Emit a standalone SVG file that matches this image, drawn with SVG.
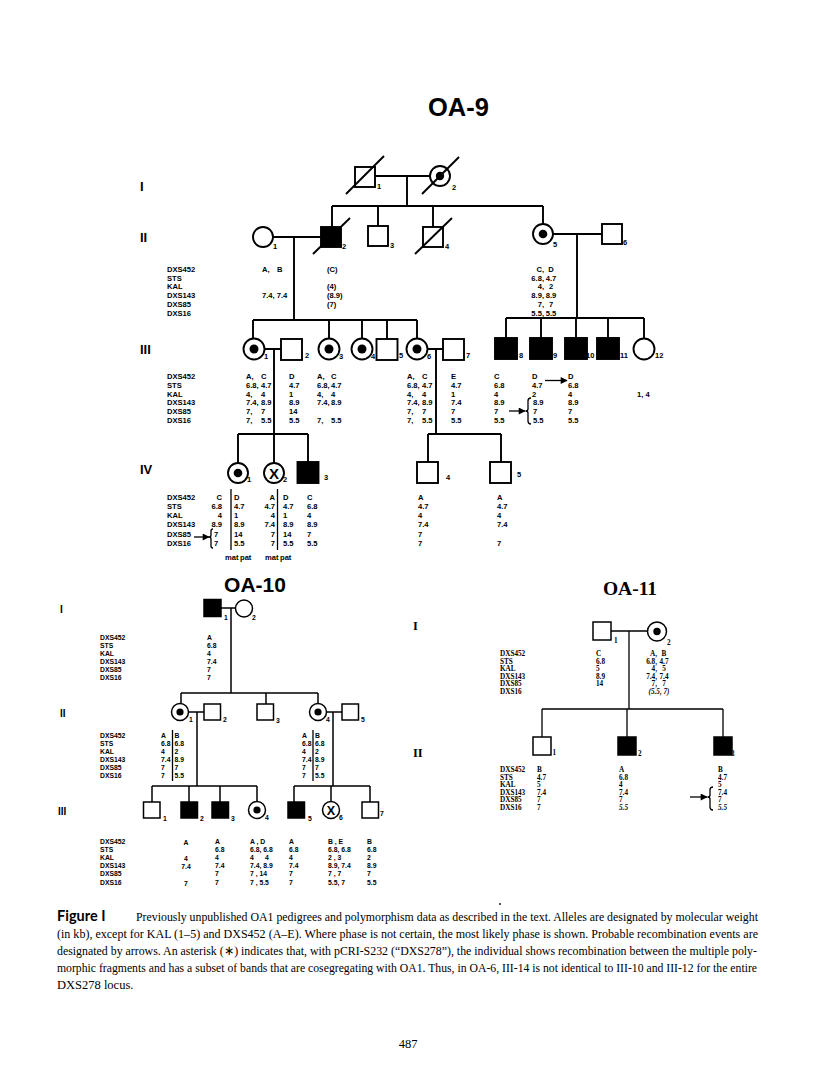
<svg xmlns="http://www.w3.org/2000/svg" width="816" height="1081" viewBox="0 0 816 1081">
<defs>
<marker id="ah" viewBox="0 0 10 10" refX="9" refY="5" markerWidth="9" markerHeight="7" markerUnits="userSpaceOnUse" orient="auto"><path d="M0,0 L10,5 L0,10 z" fill="#000"/></marker>
</defs>
<style>
.l{stroke:#000;stroke-width:1.9;fill:none}
.o{stroke:#000;stroke-width:1.9;fill:#fff}
.k{stroke:#000;stroke-width:1.9;fill:#000}
.t{stroke:#000;stroke-width:1.5;fill:none}
.to{stroke:#000;stroke-width:1.5;fill:#fff}
.tk{stroke:#000;stroke-width:1.5;fill:#000}
.a{stroke:#000;stroke-width:1.3;fill:none}
.dot{fill:#000}
text{fill:#000}
.sb{font-family:"Liberation Sans",Arial,Helvetica,sans-serif;font-weight:bold}
.d9{font-size:7.6px}
.d10{font-size:6.8px}
.n9{font-size:7.5px}
.n10{font-size:6.8px}
.g9{font-size:13px}
.g10{font-size:10px}
.sf{font-family:"Liberation Serif","Times New Roman",serif;font-weight:bold}
.d11{font-size:7.2px}
.g11{font-size:12.5px}
.it{font-style:italic}
.cap{font-family:"Liberation Serif","Times New Roman",serif;font-size:12.5px}
</style>

<!-- ================= OA-9 ================= -->
<g id="oa9-title"><text class="sb" x="458.5" y="116" font-size="25.5" text-anchor="middle">OA-9</text></g>
<g id="oa9-gen-labels" class="sb g9">
<text x="140" y="191">I</text><text x="140" y="242">II</text><text x="140" y="354">III</text><text x="140" y="474">IV</text>
</g>

<g id="oa9-connectors">
<path class="l" d="M375,176 H430 M407,176 V206 M332,206 H543 M332,206 V227 M378,206 V226 M433,206 V227 M543,206 V224"/>
<path class="l" d="M273,237 H321 M294,237 V320 M553,234 H602 M577,234 V318"/>
<path class="l" d="M253,320 H417 M253,320 V338.5 M329,320 V338.5 M362,320 V338.5 M387,320 V339 M417,320 V338.5"/>
<path class="l" d="M506,318 H644 M506,318 V338 M541,318 V338 M576,318 V338 M608,318 V338 M644,318 V338.5"/>
<path class="l" d="M264.5,349 H281 M274,349 V463 M238,434 H308 M238,434 V463 M308,434 V462"/>
<path class="l" d="M427.5,349 H443 M436,349 V434 M428,434 H501 M428,434 V462 M501,434 V462"/>
</g>

<g id="oa9-I-1"><rect class="o" x="355" y="167" width="20" height="20"/><line class="l" x1="346" y1="194" x2="384" y2="156"/><text class="sb n9" x="377" y="189">1</text></g>
<g id="oa9-I-2"><circle class="o" cx="440" cy="176" r="10"/><circle class="dot" cx="440" cy="176" r="4.2"/><line class="l" x1="422" y1="194" x2="459" y2="157"/><text class="sb n9" x="452" y="190">2</text></g>

<g id="oa9-II-1"><circle class="o" cx="263" cy="237" r="10"/><text class="sb n9" x="273" y="249">1</text></g>
<g id="oa9-II-2"><rect class="k" x="321" y="227" width="20" height="20"/><line class="l" x1="313" y1="254" x2="350" y2="218"/><text class="sb n9" x="342" y="249">2</text></g>
<g id="oa9-II-3"><rect class="o" x="368" y="226" width="20" height="20"/><text class="sb n9" x="390" y="248">3</text></g>
<g id="oa9-II-4"><rect class="o" x="423" y="227" width="20" height="20"/><line class="l" x1="415" y1="254" x2="452" y2="218"/><text class="sb n9" x="445" y="249">4</text></g>
<g id="oa9-II-5"><circle class="o" cx="543" cy="234" r="10"/><circle class="dot" cx="543" cy="234" r="4.3"/><text class="sb n9" x="553" y="247">5</text></g>
<g id="oa9-II-6"><rect class="o" x="602" y="224" width="20" height="20"/><text class="sb n9" x="623" y="245">6</text></g>

<g id="oa9-II-data" class="sb d9">
<text><tspan x="167" y="272">DXS452</tspan><tspan x="167" dy="8.7">STS</tspan><tspan x="167" dy="8.7">KAL</tspan><tspan x="167" dy="8.7">DXS143</tspan><tspan x="167" dy="8.7">DXS85</tspan><tspan x="167" dy="8.7">DXS16</tspan></text>
<text x="262" y="272">A,</text><text x="277" y="272">B</text><text x="262" y="298.1">7.4, 7.4</text>
<text><tspan x="327" y="272">(C)</tspan><tspan x="327" dy="17.4">(4)</tspan><tspan x="327" dy="8.7">(8.9)</tspan><tspan x="327" dy="8.7">(7)</tspan></text>
<text text-anchor="end"><tspan x="544" y="272">C,</tspan><tspan x="544" dy="8.7">6.8,</tspan><tspan x="544" dy="8.7">4,</tspan><tspan x="544" dy="8.7">8.9,</tspan><tspan x="544" dy="8.7">7,</tspan><tspan x="544" dy="8.7">5.5,</tspan></text>
<text text-anchor="middle"><tspan x="551" y="272">D</tspan><tspan x="551" dy="8.7">4.7</tspan><tspan x="551" dy="8.7">2</tspan><tspan x="551" dy="8.7">8.9</tspan><tspan x="551" dy="8.7">7</tspan><tspan x="551" dy="8.7">5.5</tspan></text>
</g>

<g id="oa9-III-1"><circle class="o" cx="254" cy="349" r="10.5"/><circle class="dot" cx="254" cy="349" r="4.5"/><text class="sb n9" x="264" y="359">1</text></g>
<g id="oa9-III-2"><rect class="o" x="281" y="339" width="21" height="21"/><text class="sb n9" x="305" y="358">2</text></g>
<g id="oa9-III-3"><circle class="o" cx="329" cy="349" r="10.5"/><circle class="dot" cx="329" cy="349" r="4.5"/><text class="sb n9" x="339" y="359">3</text></g>
<g id="oa9-III-4"><circle class="o" cx="362" cy="349" r="10.5"/><circle class="dot" cx="362" cy="349" r="4.5"/><text class="sb n9" x="371" y="359">4</text></g>
<g id="oa9-III-5"><rect class="o" x="376.5" y="339" width="21" height="21"/><text class="sb n9" x="399" y="358">5</text></g>
<g id="oa9-III-6"><circle class="o" cx="417" cy="349" r="10.5"/><circle class="dot" cx="417" cy="349" r="4.5"/><text class="sb n9" x="427" y="359">6</text></g>
<g id="oa9-III-7"><rect class="o" x="443" y="339" width="21" height="21"/><text class="sb n9" x="466" y="358">7</text></g>
<g id="oa9-III-8"><rect class="k" x="495" y="338" width="22" height="21"/><text class="sb n9" x="519" y="358">8</text></g>
<g id="oa9-III-9"><rect class="k" x="530" y="338" width="22" height="21"/><text class="sb n9" x="553" y="358">9</text></g>
<g id="oa9-III-10"><rect class="k" x="565" y="338" width="22" height="21"/><text class="sb n9" x="586" y="358">10</text></g>
<g id="oa9-III-11"><rect class="k" x="597" y="338" width="22" height="21"/><text class="sb n9" x="620" y="358">11</text></g>
<g id="oa9-III-12"><circle class="o" cx="644" cy="349" r="10.5"/><text class="sb n9" x="655" y="358">12</text></g>

<g id="oa9-III-data" class="sb d9">
<text><tspan x="167" y="378.6">DXS452</tspan><tspan x="167" dy="8.95">STS</tspan><tspan x="167" dy="8.95">KAL</tspan><tspan x="167" dy="8.95">DXS143</tspan><tspan x="167" dy="8.95">DXS85</tspan><tspan x="167" dy="8.95">DXS16</tspan></text>
<text><tspan x="246" y="378.6">A,</tspan><tspan x="246" dy="8.95">6.8,</tspan><tspan x="246" dy="8.95">4,</tspan><tspan x="246" dy="8.95">7.4,</tspan><tspan x="246" dy="8.95">7,</tspan><tspan x="246" dy="8.95">7,</tspan></text>
<text><tspan x="261" y="378.6">C</tspan><tspan x="261" dy="8.95">4.7</tspan><tspan x="261" dy="8.95">4</tspan><tspan x="261" dy="8.95">8.9</tspan><tspan x="261" dy="8.95">7</tspan><tspan x="261" dy="8.95">5.5</tspan></text>
<text><tspan x="289" y="378.6">D</tspan><tspan x="289" dy="8.95">4.7</tspan><tspan x="289" dy="8.95">1</tspan><tspan x="289" dy="8.95">8.9</tspan><tspan x="289" dy="8.95">14</tspan><tspan x="289" dy="8.95">5.5</tspan></text>
<text><tspan x="317" y="378.6">A,</tspan><tspan x="317" dy="8.95">6.8,</tspan><tspan x="317" dy="8.95">4,</tspan><tspan x="317" dy="8.95">7.4,</tspan><tspan x="317" dy="17.9">7,</tspan></text>
<text><tspan x="331" y="378.6">C</tspan><tspan x="331" dy="8.95">4.7</tspan><tspan x="331" dy="8.95">4</tspan><tspan x="331" dy="8.95">8.9</tspan><tspan x="331" dy="17.9">5.5</tspan></text>
<text><tspan x="407" y="378.6">A,</tspan><tspan x="407" dy="8.95">6.8,</tspan><tspan x="407" dy="8.95">4,</tspan><tspan x="407" dy="8.95">7.4,</tspan><tspan x="407" dy="8.95">7,</tspan><tspan x="407" dy="8.95">7,</tspan></text>
<text><tspan x="422" y="378.6">C</tspan><tspan x="422" dy="8.95">4.7</tspan><tspan x="422" dy="8.95">4</tspan><tspan x="422" dy="8.95">8.9</tspan><tspan x="422" dy="8.95">7</tspan><tspan x="422" dy="8.95">5.5</tspan></text>
<text><tspan x="451" y="378.6">E</tspan><tspan x="451" dy="8.95">4.7</tspan><tspan x="451" dy="8.95">1</tspan><tspan x="451" dy="8.95">7.4</tspan><tspan x="451" dy="8.95">7</tspan><tspan x="451" dy="8.95">5.5</tspan></text>
<text><tspan x="494" y="378.6">C</tspan><tspan x="494" dy="8.95">6.8</tspan><tspan x="494" dy="8.95">4</tspan><tspan x="494" dy="8.95">8.9</tspan><tspan x="494" dy="8.95">7</tspan><tspan x="494" dy="8.95">5.5</tspan></text>
<text><tspan x="532" y="378.6">D</tspan><tspan x="532" dy="8.95">4.7</tspan><tspan x="532" dy="8.95">2</tspan><tspan x="533" dy="8.95">8.9</tspan><tspan x="533" dy="8.95">7</tspan><tspan x="533" dy="8.95">5.5</tspan></text>
<text><tspan x="568" y="378.6">D</tspan><tspan x="568" dy="8.95">6.8</tspan><tspan x="568" dy="8.95">4</tspan><tspan x="568" dy="8.95">8.9</tspan><tspan x="568" dy="8.95">7</tspan><tspan x="568" dy="8.95">5.5</tspan></text>
<text x="637" y="396.5">1, 4</text>
</g>
<g id="oa9-III-recomb">
<line class="a" x1="545" y1="380.5" x2="567" y2="380.5" marker-end="url(#ah)"/>
<path class="a" d="M531,398 Q528,398 528,401 L528,409 Q528,411 525.5,411 Q528,411 528,413 L528,421 Q528,424 531,424"/>
<line class="a" x1="509" y1="411" x2="525" y2="411" marker-end="url(#ah)"/>
</g>

<g id="oa9-IV-1"><circle class="o" cx="238" cy="473" r="10"/><circle class="dot" cx="238" cy="473" r="4.3"/><text class="sb n9" x="247" y="482">1</text></g>
<g id="oa9-IV-2"><circle class="o" cx="274" cy="473" r="10"/><text class="sb" x="274" y="478.5" font-size="15" text-anchor="middle">X</text><text class="sb n9" x="283" y="482">2</text></g>
<g id="oa9-IV-3"><rect class="k" x="297.5" y="462" width="21" height="21"/><text class="sb n9" x="324" y="480">3</text></g>
<g id="oa9-IV-4"><rect class="o" x="417" y="462" width="21" height="21"/><text class="sb n9" x="446" y="480">4</text></g>
<g id="oa9-IV-5"><rect class="o" x="490" y="462" width="21" height="21"/><text class="sb n9" x="517" y="477">5</text></g>

<g id="oa9-IV-data" class="sb d9">
<text><tspan x="167" y="499.5">DXS452</tspan><tspan x="167" dy="9.3">STS</tspan><tspan x="167" dy="9.3">KAL</tspan><tspan x="167" dy="9.3">DXS143</tspan><tspan x="167" dy="9.3">DXS85</tspan><tspan x="167" dy="9.3">DXS16</tspan></text>
<text text-anchor="end"><tspan x="222" y="499.5">C</tspan><tspan x="222" dy="9.3">6.8</tspan><tspan x="222" dy="9.3">4</tspan><tspan x="222" dy="9.3">8.9</tspan></text>
<text><tspan x="214" y="536.7">7</tspan><tspan x="214" dy="9.3">7</tspan></text>
<line class="a" x1="231" y1="489" x2="231" y2="550"/>
<text><tspan x="234" y="499.5">D</tspan><tspan x="234" dy="9.3">4.7</tspan><tspan x="234" dy="9.3">1</tspan><tspan x="234" dy="9.3">8.9</tspan><tspan x="234" dy="9.3">14</tspan><tspan x="234" dy="9.3">5.5</tspan></text>
<text text-anchor="end"><tspan x="275" y="499.5">A</tspan><tspan x="275" dy="9.3">4.7</tspan><tspan x="275" dy="9.3">4</tspan><tspan x="275" dy="9.3">7.4</tspan><tspan x="275" dy="9.3">7</tspan><tspan x="275" dy="9.3">7</tspan></text>
<line class="a" x1="277.5" y1="489" x2="277.5" y2="550"/>
<text><tspan x="283" y="499.5">D</tspan><tspan x="283" dy="9.3">4.7</tspan><tspan x="283" dy="9.3">1</tspan><tspan x="283" dy="9.3">8.9</tspan><tspan x="283" dy="9.3">14</tspan><tspan x="283" dy="9.3">5.5</tspan></text>
<text><tspan x="307" y="499.5">C</tspan><tspan x="307" dy="9.3">6.8</tspan><tspan x="307" dy="9.3">4</tspan><tspan x="307" dy="9.3">8.9</tspan><tspan x="307" dy="9.3">7</tspan><tspan x="307" dy="9.3">5.5</tspan></text>
<text><tspan x="418" y="499.5">A</tspan><tspan x="418" dy="9.3">4.7</tspan><tspan x="418" dy="9.3">4</tspan><tspan x="418" dy="9.3">7.4</tspan><tspan x="418" dy="9.3">7</tspan><tspan x="418" dy="9.3">7</tspan></text>
<text><tspan x="497" y="499.5">A</tspan><tspan x="497" dy="9.3">4.7</tspan><tspan x="497" dy="9.3">4</tspan><tspan x="497" dy="9.3">7.4</tspan><tspan x="497" dy="18.6">7</tspan></text>
<text x="225" y="559.5">mat</text><text x="240" y="559.5">pat</text>
<text x="265" y="559.5">mat</text><text x="280" y="559.5">pat</text>
</g>
<g id="oa9-IV-recomb">
<path class="a" d="M213,529 Q211,529 211,531 L211,535 Q211,537 209,537 Q211,537 211,539 L211,546 Q211,548 213,548"/>
<line class="a" x1="194" y1="537" x2="209" y2="537" marker-end="url(#ah)"/>
</g>

<!-- ================= OA-10 ================= -->
<g id="oa10-title"><text class="sb" x="255" y="592" font-size="21" text-anchor="middle">OA-10</text></g>
<g id="oa10-gen-labels" class="sb g10">
<text x="60" y="612.5">I</text><text x="60" y="717">II</text><text x="58" y="814.5">III</text>
</g>
<g id="oa10-connectors">
<path class="t" d="M221,608 H235.5 M231,608 V693 M181,693 H318 M181,693 V703.5 M266,693 V704 M318,693 V703.5"/>
<path class="t" d="M188.5,712 H204 M197,712 V786 M326.5,712 H342 M333,712 V786"/>
<path class="t" d="M152,786 H257 M152,786 V802 M189,786 V802 M220,786 V802 M257,786 V801.5 M294,786 H370 M294,786 V802 M331,786 V801.5 M370,786 V802"/>
</g>
<g id="oa10-I-1"><rect class="tk" x="204" y="599.5" width="17" height="17"/><text class="sb n10" x="224" y="620">1</text></g>
<g id="oa10-I-2"><circle class="to" cx="244" cy="608.5" r="8.5"/><text class="sb n10" x="252" y="620">2</text></g>
<g id="oa10-I-data" class="sb d10">
<text><tspan x="100" y="639.5">DXS452</tspan><tspan x="100" dy="8">STS</tspan><tspan x="100" dy="8">KAL</tspan><tspan x="100" dy="8">DXS143</tspan><tspan x="100" dy="8">DXS85</tspan><tspan x="100" dy="8">DXS16</tspan></text>
<text><tspan x="207" y="639.5">A</tspan><tspan x="207" dy="8">6.8</tspan><tspan x="207" dy="8">4</tspan><tspan x="207" dy="8">7.4</tspan><tspan x="207" dy="8">7</tspan><tspan x="207" dy="8">7</tspan></text>
</g>
<g id="oa10-II-1"><circle class="to" cx="180" cy="712" r="8.5"/><circle class="dot" cx="180" cy="712" r="3.6"/><text class="sb n10" x="189" y="721.5">1</text></g>
<g id="oa10-II-2"><rect class="to" x="204" y="704" width="16.5" height="16"/><text class="sb n10" x="223" y="721.5">2</text></g>
<g id="oa10-II-3"><rect class="to" x="257" y="704" width="16.5" height="16"/><text class="sb n10" x="276" y="722.5">3</text></g>
<g id="oa10-II-4"><circle class="to" cx="318" cy="712" r="8.5"/><circle class="dot" cx="318" cy="712" r="3.6"/><text class="sb n10" x="326" y="721.5">4</text></g>
<g id="oa10-II-5"><rect class="to" x="342" y="704" width="16.5" height="16"/><text class="sb n10" x="361" y="721.5">5</text></g>
<g id="oa10-II-data" class="sb d10">
<text><tspan x="100" y="737.5">DXS452</tspan><tspan x="100" dy="8">STS</tspan><tspan x="100" dy="8">KAL</tspan><tspan x="100" dy="8">DXS143</tspan><tspan x="100" dy="8">DXS85</tspan><tspan x="100" dy="8">DXS16</tspan></text>
<text><tspan x="161" y="737.5">A</tspan><tspan x="161" dy="8">6.8</tspan><tspan x="161" dy="8">4</tspan><tspan x="161" dy="8">7.4</tspan><tspan x="161" dy="8">7</tspan><tspan x="161" dy="8">7</tspan></text>
<line class="a" x1="172.5" y1="730" x2="172.5" y2="781"/>
<text><tspan x="174.5" y="737.5">B</tspan><tspan x="174.5" dy="8">6.8</tspan><tspan x="174.5" dy="8">2</tspan><tspan x="174.5" dy="8">8.9</tspan><tspan x="174.5" dy="8">7</tspan><tspan x="174.5" dy="8">5.5</tspan></text>
<text><tspan x="302" y="737.5">A</tspan><tspan x="302" dy="8">6.8</tspan><tspan x="302" dy="8">4</tspan><tspan x="302" dy="8">7.4</tspan><tspan x="302" dy="8">7</tspan><tspan x="302" dy="8">7</tspan></text>
<line class="a" x1="313" y1="730" x2="313" y2="781"/>
<text><tspan x="315" y="737.5">B</tspan><tspan x="315" dy="8">6.8</tspan><tspan x="315" dy="8">2</tspan><tspan x="315" dy="8">8.9</tspan><tspan x="315" dy="8">7</tspan><tspan x="315" dy="8">5.5</tspan></text>
</g>
<g id="oa10-III-1"><rect class="to" x="143.5" y="802" width="16.5" height="16"/><text class="sb n10" x="163" y="820.5">1</text></g>
<g id="oa10-III-2"><rect class="tk" x="181" y="802" width="16.5" height="16"/><text class="sb n10" x="200" y="820.5">2</text></g>
<g id="oa10-III-3"><rect class="tk" x="212" y="802" width="16.5" height="16"/><text class="sb n10" x="231" y="820.5">3</text></g>
<g id="oa10-III-4"><circle class="to" cx="257" cy="810" r="8.5"/><circle class="dot" cx="257" cy="810" r="3.6"/><text class="sb n10" x="265" y="820">4</text></g>
<g id="oa10-III-5"><rect class="tk" x="288" y="802" width="16.5" height="16"/><text class="sb n10" x="308" y="820.5">5</text></g>
<g id="oa10-III-6"><circle class="to" cx="331" cy="810" r="8.5"/><text class="sb" x="331" y="814.5" font-size="12.5" text-anchor="middle">X</text><text class="sb n10" x="339" y="820">6</text></g>
<g id="oa10-III-7"><rect class="to" x="362" y="802" width="16.5" height="16"/><text class="sb n10" x="380" y="816">7</text></g>
<g id="oa10-III-data" class="sb d10">
<text><tspan x="100" y="843.5">DXS452</tspan><tspan x="100" dy="8.2">STS</tspan><tspan x="100" dy="8.2">KAL</tspan><tspan x="100" dy="8.2">DXS143</tspan><tspan x="100" dy="8.2">DXS85</tspan><tspan x="100" dy="8.2">DXS16</tspan></text>
<text text-anchor="middle"><tspan x="186" y="844.5">A</tspan><tspan x="186" dy="16.4">4</tspan><tspan x="186" dy="8.2">7.4</tspan><tspan x="186" dy="16.4">7</tspan></text>
<text><tspan x="215" y="843.5">A</tspan><tspan x="215" dy="8.2">6.8</tspan><tspan x="215" dy="8.2">4</tspan><tspan x="215" dy="8.2">7.4</tspan><tspan x="215" dy="8.2">7</tspan><tspan x="215" dy="8.2">7</tspan></text>
<text><tspan x="250" y="843.5">A , D</tspan><tspan x="250" dy="8.2">6.8, 6.8</tspan><tspan x="250" dy="8.2">4</tspan><tspan x="250" dy="8.2">7.4, 8.9</tspan><tspan x="250" dy="8.2">7 , 14</tspan><tspan x="250" dy="8.2">7 , 5.5</tspan></text>
<text x="265" y="859.9">4</text>
<text><tspan x="289" y="843.5">A</tspan><tspan x="289" dy="8.2">6.8</tspan><tspan x="289" dy="8.2">4</tspan><tspan x="289" dy="8.2">7.4</tspan><tspan x="289" dy="8.2">7</tspan><tspan x="289" dy="8.2">7</tspan></text>
<text><tspan x="328" y="843.5">B , E</tspan><tspan x="328" dy="8.2">6.8, 6.8</tspan><tspan x="328" dy="8.2">2 , 3</tspan><tspan x="328" dy="8.2">8.9, 7.4</tspan><tspan x="328" dy="8.2">7 , 7</tspan><tspan x="328" dy="8.2">5.5, 7</tspan></text>
<text><tspan x="367" y="843.5">B</tspan><tspan x="367" dy="8.2">6.8</tspan><tspan x="367" dy="8.2">2</tspan><tspan x="367" dy="8.2">8.9</tspan><tspan x="367" dy="8.2">7</tspan><tspan x="367" dy="8.2">5.5</tspan></text>
</g>

<!-- ================= OA-11 ================= -->
<g id="oa11-title"><text class="sf" x="630" y="595" font-size="19.5" text-anchor="middle">OA-11</text></g>
<g id="oa11-gen-labels" class="sf g11">
<text x="413" y="629.5">I</text><text x="413" y="756.5">II</text>
</g>
<g id="oa11-connectors">
<path class="a" d="M611,631 H647.5 M629,631 V709 M542,709 H723 M542,709 V737 M627,709 V737 M723,709 V737"/>
</g>
<g id="oa11-I-1"><rect class="to" x="593" y="622" width="18" height="18"/><text class="sf d11" x="614" y="643">1</text></g>
<g id="oa11-I-2"><circle class="to" cx="657" cy="631.5" r="9.5"/><circle class="dot" cx="657" cy="631.5" r="3.7"/><text class="sf d11" x="667" y="645">2</text></g>
<g id="oa11-I-data" class="sf d11">
<text><tspan x="500" y="656">DXS452</tspan><tspan x="500" dy="7.6">STS</tspan><tspan x="500" dy="7.6">KAL</tspan><tspan x="500" dy="7.6">DXS143</tspan><tspan x="500" dy="7.6">DXS85</tspan><tspan x="500" dy="7.6">DXS16</tspan></text>
<text><tspan x="596" y="656">C</tspan><tspan x="596" dy="7.6">6.8</tspan><tspan x="596" dy="7.6">5</tspan><tspan x="596" dy="7.6">8.9</tspan><tspan x="596" dy="7.6">14</tspan></text>
<text text-anchor="end"><tspan x="657" y="656">A,</tspan><tspan x="657" dy="7.6">6.8,</tspan><tspan x="657" dy="7.6">4,</tspan><tspan x="657" dy="7.6">7.4,</tspan><tspan x="657" dy="7.6">7,</tspan></text>
<text text-anchor="middle"><tspan x="664" y="656">B</tspan><tspan x="664" dy="7.6">4.7</tspan><tspan x="664" dy="7.6">5</tspan><tspan x="664" dy="7.6">7.4</tspan><tspan x="664" dy="7.6">7</tspan></text>
<text class="it" x="659" y="694" text-anchor="middle">(5.5, 7)</text>
</g>
<g id="oa11-II-1"><rect class="to" x="533" y="737" width="18" height="18"/><text class="sf d11" x="552.5" y="755">1</text></g>
<g id="oa11-II-2"><rect class="tk" x="618" y="737" width="18" height="18"/><text class="sf d11" x="638" y="756">2</text></g>
<g id="oa11-II-3"><rect class="tk" x="714" y="737" width="18" height="18"/><text class="sf d11" x="731" y="756">3</text></g>
<g id="oa11-II-data" class="sf d11">
<text><tspan x="500" y="772">DXS452</tspan><tspan x="500" dy="7.6">STS</tspan><tspan x="500" dy="7.6">KAL</tspan><tspan x="500" dy="7.6">DXS143</tspan><tspan x="500" dy="7.6">DXS85</tspan><tspan x="500" dy="7.6">DXS16</tspan></text>
<text><tspan x="537" y="772">B</tspan><tspan x="537" dy="7.6">4.7</tspan><tspan x="537" dy="7.6">5</tspan><tspan x="537" dy="7.6">7.4</tspan><tspan x="537" dy="7.6">7</tspan><tspan x="537" dy="7.6">7</tspan></text>
<text><tspan x="619" y="772">A</tspan><tspan x="619" dy="7.6">6.8</tspan><tspan x="619" dy="7.6">4</tspan><tspan x="619" dy="7.6">7.4</tspan><tspan x="619" dy="7.6">7</tspan><tspan x="619" dy="7.6" font-style="italic">5.5</tspan></text>
<text><tspan x="718" y="772">B</tspan><tspan x="718" dy="7.6">4.7</tspan><tspan x="718" dy="7.6">5</tspan><tspan x="718" dy="7.6">7.4</tspan><tspan x="718" dy="7.6">7</tspan><tspan x="718" dy="7.6" font-style="italic">5.5</tspan></text>
</g>
<g id="oa11-II-recomb">
<path class="a" d="M713,787 Q710,787 710,790 L710,795 Q710,797 707.5,797 Q710,797 710,799 L710,807 Q710,810 713,810"/>
<line class="a" x1="690" y1="797" x2="707" y2="797" marker-end="url(#ah)"/>
</g>

<!-- ================= Caption ================= -->
<g id="caption">
<circle cx="500" cy="904" r="0.9" fill="#000"/>
<text x="57" y="921" font-family="Lato,'Open Sans',sans-serif" font-weight="bold" font-size="14.5">Figure I</text>
<text class="cap" x="136" y="921" textLength="622" lengthAdjust="spacingAndGlyphs">Previously unpublished OA1 pedigrees and polymorphism data as described in the text. Alleles are designated by molecular weight</text>
<text class="cap" x="57" y="938" textLength="701" lengthAdjust="spacingAndGlyphs">(in kb), except for KAL (1–5) and DXS452 (A–E). Where phase is not certain, the most likely phase is shown. Probable recombination events are</text>
<text class="cap" x="57" y="955" textLength="700" lengthAdjust="spacingAndGlyphs">designated by arrows. An asterisk (∗) indicates that, with pCRI-S232 (“DXS278”), the individual shows recombination between the multiple poly-</text>
<text class="cap" x="57" y="972" textLength="700" lengthAdjust="spacingAndGlyphs">morphic fragments and has a subset of bands that are cosegregating with OA1. Thus, in OA-6, III-14 is not identical to III-10 and III-12 for the entire</text>
<text class="cap" x="57" y="989">DXS278 locus.</text>
<text class="cap" x="408" y="1048" font-size="13" text-anchor="middle">487</text>
</g>
</svg>
